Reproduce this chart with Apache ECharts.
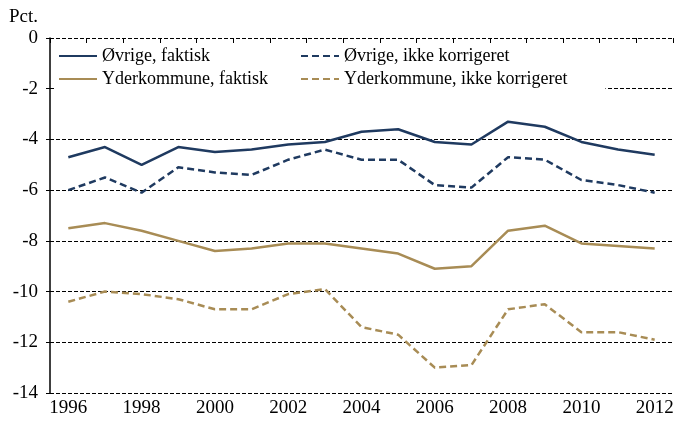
<!DOCTYPE html>
<html>
<head>
<meta charset="utf-8">
<script src="https://cdn.jsdelivr.net/npm/echarts@6/dist/echarts.min.js"></script>
<style>
  html, body { margin: 0; padding: 0; background: #fff; }
  #chart { width: 677px; height: 424px; }
</style>
</head>
<body>
<div id="chart"></div>
<script>
  var years = ['1996', '1997', '1998', '1999', '2000', '2001', '2002', '2003', '2004',
               '2005', '2006', '2007', '2008', '2009', '2010', '2011', '2012'];

  var ovrigeFaktisk = [-4.7, -4.3, -5.0, -4.3, -4.5, -4.4, -4.2, -4.1, -3.7,
                       -3.6, -4.1, -4.2, -3.3, -3.5, -4.1, -4.4, -4.6];
  var ovrigeIkke    = [-6.0, -5.5, -6.1, -5.1, -5.3, -5.4, -4.8, -4.4, -4.8,
                       -4.8, -5.8, -5.9, -4.7, -4.8, -5.6, -5.8, -6.1];
  var yderFaktisk   = [-7.5, -7.3, -7.6, -8.0, -8.4, -8.3, -8.1, -8.1, -8.3,
                       -8.5, -9.1, -9.0, -7.6, -7.4, -8.1, -8.2, -8.3];
  var yderIkke      = [-10.4, -10.0, -10.1, -10.3, -10.7, -10.7, -10.1, -9.9, -11.4,
                       -11.7, -13.0, -12.9, -10.7, -10.5, -11.6, -11.6, -11.9];

  var names = ['Øvrige, faktisk', 'Øvrige, ikke korrigeret',
               'Yderkommune, faktisk', 'Yderkommune, ikke korrigeret'];

  var navy = '#1f3a60';
  var gold = '#a88c55';
  var font = 'Liberation Serif';

  function line(name, data, color, dashed) {
    return {
      name: name,
      type: 'line',
      data: data,
      symbol: 'none',
      smooth: false,
      lineStyle: { color: color, width: 2.5, type: dashed ? [7, 4] : 'solid' },
      itemStyle: { color: color }
    };
  }

  var legendBase = {
    orient: 'vertical',
    top: 44,
    itemWidth: 38,
    itemHeight: 10,
    itemGap: 5,
    backgroundColor: '#fff',
    itemStyle: { opacity: 0 },
    textStyle: { fontFamily: font, fontSize: 18, color: '#000' }
  };

  var chart = echarts.init(document.getElementById('chart'));
  chart.setOption({
    animation: false,
    textStyle: { fontFamily: font },
    title: {
      text: 'Pct.',
      left: 4,
      top: 3,
      textStyle: { fontFamily: font, fontSize: 19, fontWeight: 'normal', color: '#000' }
    },
    legend: [
      Object.assign({}, legendBase, { left: 54, padding: [3, 28, 3, 4], data: [names[0], names[2]] }),
      Object.assign({}, legendBase, { left: 296, padding: [3, 38, 3, 4], data: [names[1], names[3]] })
    ],
    grid: { left: 50, right: 4, top: 38, bottom: 31 },
    xAxis: {
      type: 'category',
      data: years,
      boundaryGap: true,
      axisLine: { show: false },
      axisTick: { show: true, interval: 0, length: 5, lineStyle: { color: '#000' } },
      axisLabel: { interval: 1, fontFamily: font, fontSize: 19, color: '#000', margin: 6 },
      splitLine: { show: false }
    },
    yAxis: {
      type: 'value',
      min: -14,
      max: 0,
      interval: 2,
      axisLine: { show: true, lineStyle: { color: '#000', width: 1.5 } },
      axisTick: { show: true, length: 4, lineStyle: { color: '#000' } },
      axisLabel: { fontFamily: font, fontSize: 19, color: '#000', margin: 12 },
      splitLine: { show: true, lineStyle: { color: '#000', width: 1, type: [4, 2] } }
    },
    series: [
      line(names[0], ovrigeFaktisk, navy, false),
      line(names[1], ovrigeIkke, navy, true),
      line(names[2], yderFaktisk, gold, false),
      line(names[3], yderIkke, gold, true)
    ]
  });
</script>
</body>
</html>
